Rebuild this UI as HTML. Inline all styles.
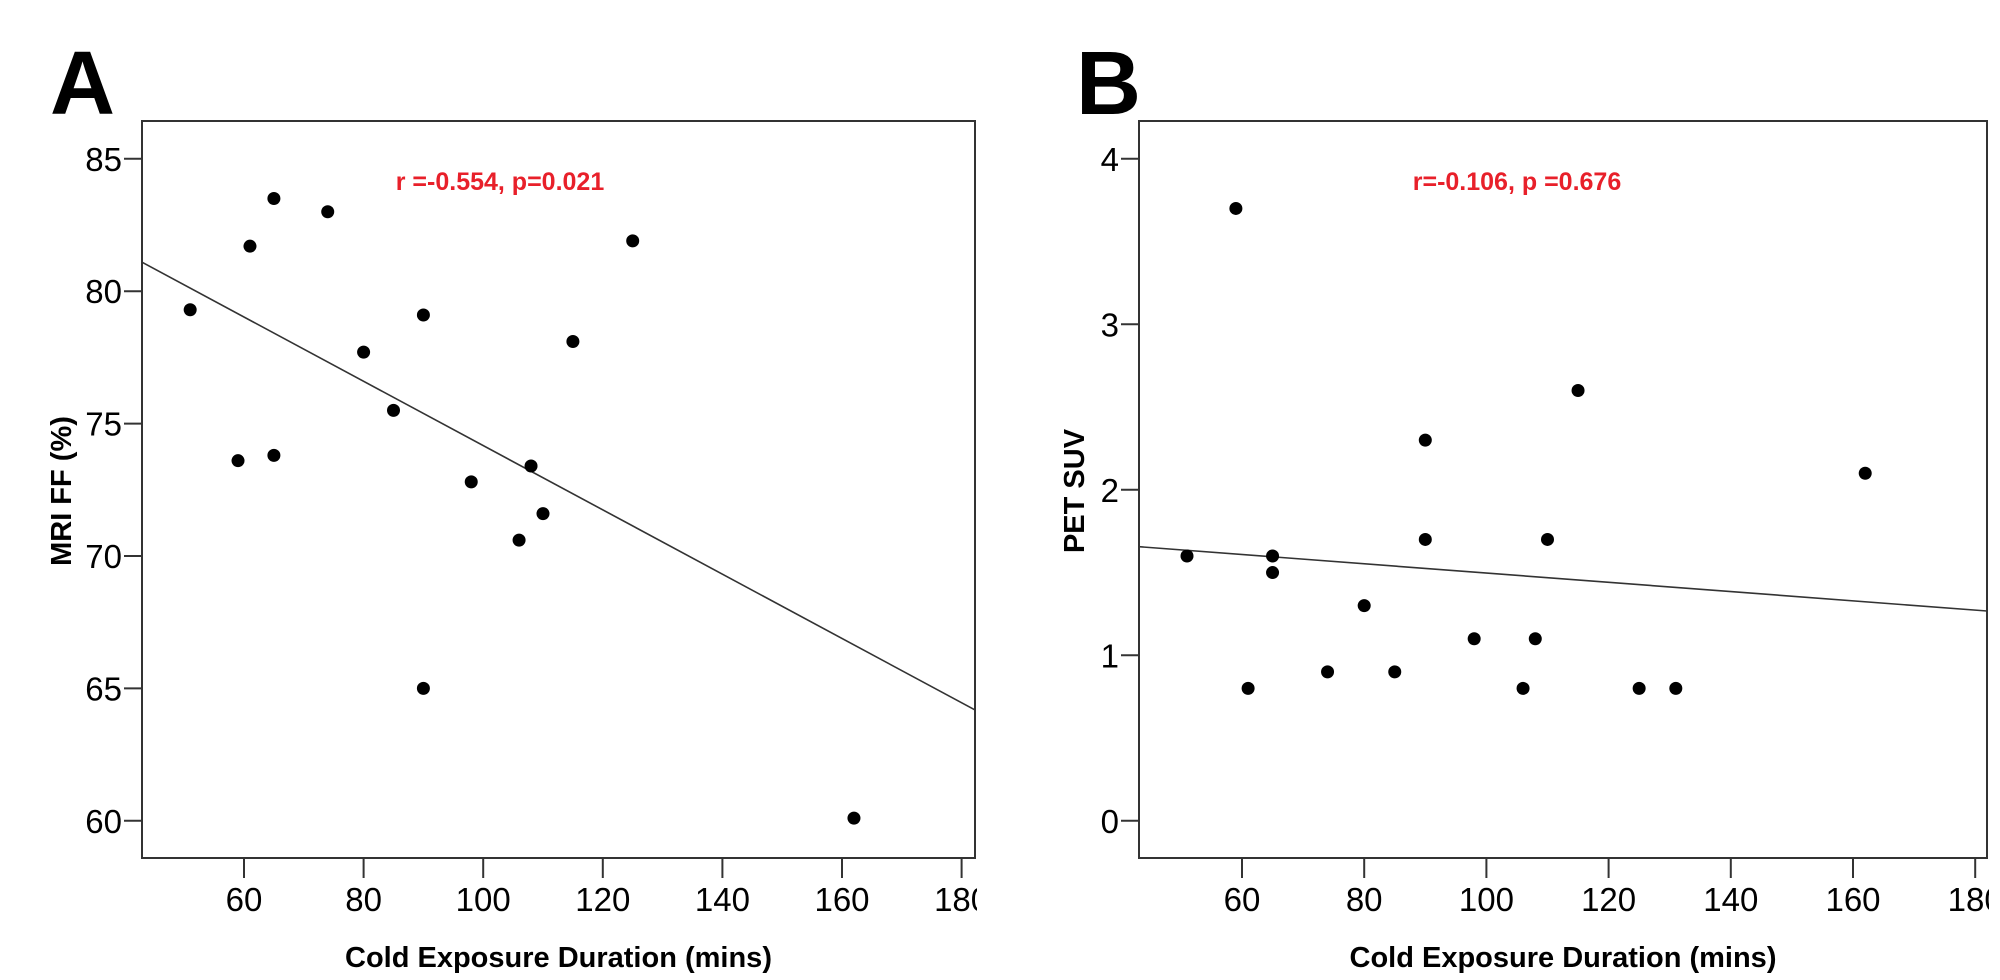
<!DOCTYPE html>
<html><head><meta charset="utf-8"><style>
html,body{margin:0;padding:0;background:#fff;}
svg{display:block;font-family:"Liberation Sans",Arial,sans-serif;}
</style></head><body>
<svg id="fig" width="2000" height="980" viewBox="0 0 2000 980"></svg>
<script>
// Panel A data
const aX = [51,59,61,65,65,74,80,85,90,90,98,106,108,110,115,125,162];
const aY = [79.3,73.6,81.7,83.5,73.8,83.0,77.7,75.5,79.1,65.0,72.8,70.6,73.4,71.6,78.1,81.9,60.1];
const aYTicks = [60,65,70,75,80,85];
const aFit = [86.31,-0.1214]; // intercept, slope
// Panel B data
const bX = [51,59,61,65,65,74,80,85,90,90,98,106,108,110,115,125,131,162];
const bY = [1.6,3.7,0.8,1.6,1.5,0.9,1.3,0.9,2.3,1.7,1.1,0.8,1.1,1.7,2.6,0.8,0.8,2.1];
const bYTicks = [0,1,2,3,4];
const bFit = [1.777,-0.0028];
const xTicks = [60,80,100,120,140,160,180];

const NS='http://www.w3.org/2000/svg';
const svg=document.getElementById('fig');
function mk(tag,attrs,parent,text){const e=document.createElementNS(NS,tag);for(const k in attrs)e.setAttribute(k,attrs[k]);if(text!==undefined)e.textContent=text;(parent||svg).appendChild(e);return e;}

function panel(id,o){
  const g=mk('g',{});
  
  
  const sx=v=>o.x0px+(v-o.x0v)*o.xs;
  const sy=v=>o.y0px-(v-o.y0v)*o.ys;
  const clip=mk('clipPath',{id:'clip'+id},g);
  mk('rect',{x:0,y:0,width:o.R+2,height:980},clip);
  const lab=mk('text',{x:o.labX,y:114,'font-size':90,'font-weight':'bold',fill:'#000'},g,o.letter);
  
  
  const box=mk('rect',{x:o.L,y:121,width:o.R-o.L,height:737,fill:'none',stroke:'#333',"stroke-width":2},g);
  
  
  o.yTicks.forEach(t=>{
    const y=sy(t);
    mk('line',{x1:o.L-18,x2:o.L,y1:y,y2:y,stroke:'#333','stroke-width':2},g);
    const tl=mk('text',{x:o.L-20,y:y+12,'font-size':33,'text-anchor':'end',fill:'#000'},g,String(t));
    
    
  });
  const xg=mk('g',{'clip-path':'url(#clip'+id+')'},g);
  xTicks.forEach(t=>{
    const x=sx(t);
    mk('line',{x1:x,x2:x,y1:858,y2:878,stroke:'#333','stroke-width':2},xg);
    const tl=mk('text',{x:x,y:911,'font-size':33,'text-anchor':'middle',fill:'#000'},xg,String(t));
    
    
  });
  const xt=mk('text',{x:(o.L+o.R)/2,y:967,'font-size':29,'font-weight':'bold','text-anchor':'middle',fill:'#000'},g,'Cold Exposure Duration (mins)');
  
  
  const yt=mk('text',{x:0,y:0,'font-size':29,'font-weight':'bold','text-anchor':'middle',fill:'#000',transform:'translate('+o.ytX+',491) rotate(-90)'},g,o.yTitle);
  
  
  const st=mk('text',{x:o.statX,y:190,'font-size':25,'font-weight':'bold','text-anchor':'middle',fill:'#e8202a'},g,o.stat);
  
  
  // fit line across plot
  const vL=o.x0v+(o.L-o.x0px)/o.xs, vR=o.x0v+(o.R-o.x0px)/o.xs;
  const fl=mk('line',{x1:o.L,y1:sy(o.fit[0]+o.fit[1]*vL),x2:o.R,y2:sy(o.fit[0]+o.fit[1]*vR),stroke:'#333','stroke-width':1.6},g);
  
  
  o.xs_.forEach((v,i)=>{
    const c=mk('circle',{cx:sx(v),cy:sy(o.ys_[i]),r:6.5,fill:'#000'},g);
    
    
  });
}
panel('a',{letter:'A',labX:50,L:142,R:975,x0v:60,x0px:244,xs:5.98,y0v:60,y0px:820.8,ys:26.48,
  yTicks:aYTicks,fit:aFit,xs_:aX,ys_:aY,yTitle:'MRI FF (%)',ytX:71,stat:'r =-0.554, p=0.021',statX:500});
panel('b',{letter:'B',labX:1076,L:1139,R:1987,x0v:60,x0px:1242,xs:6.11,y0v:0,y0px:820.8,ys:165.5,
  yTicks:bYTicks,fit:bFit,xs_:bX,ys_:bY,yTitle:'PET SUV',ytX:1084,stat:'r=-0.106, p =0.676',statX:1517});
</script>
</body></html>
